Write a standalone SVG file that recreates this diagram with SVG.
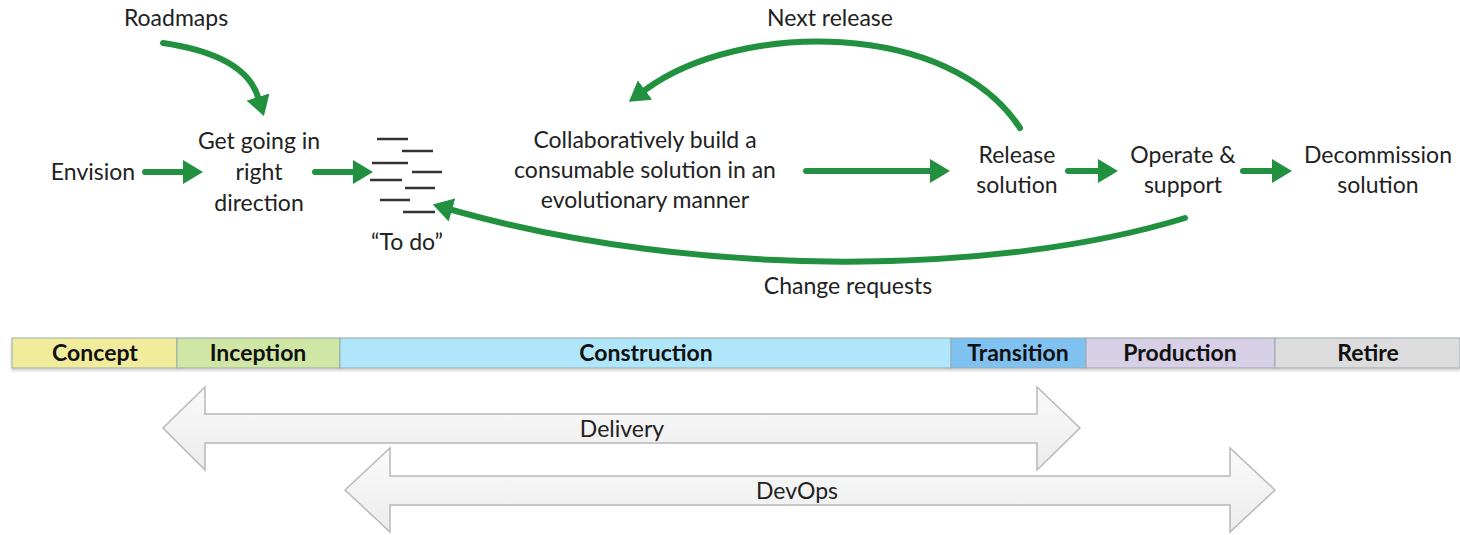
<svg xmlns="http://www.w3.org/2000/svg" width="1460" height="535" viewBox="0 0 1460 535">
<defs>
<marker id="ah" viewBox="0 0 20 24" refX="0" refY="12" markerWidth="20" markerHeight="24" markerUnits="userSpaceOnUse" orient="auto">
<path d="M0,0 L20,12 L0,24 Z" fill="#21913f"/>
</marker>
<linearGradient id="bg" x1="0" y1="0" x2="0" y2="1">
<stop offset="0" stop-color="#fafafa"/>
<stop offset="1" stop-color="#ececec"/>
</linearGradient>
<filter id="sh" x="-5%" y="-20%" width="110%" height="160%">
<feDropShadow dx="0" dy="2" stdDeviation="1.5" flood-color="#000" flood-opacity="0.2"/>
</filter>
</defs>
<style>
text{font-family:Lato,"Liberation Sans",sans-serif;font-size:23px;fill:#222;text-anchor:middle}
.ph{font-weight:bold;font-size:23px;fill:#111}
.g{fill:none;stroke:#21913f;stroke-width:6;stroke-linecap:round;marker-end:url(#ah)}
.td{stroke:#333;stroke-width:2.5}
.seg{stroke:#9aa;stroke-width:1}
.big{fill:url(#bg);stroke:#b8b8b8;stroke-width:1.5}
</style>
<rect width="1460" height="535" fill="#fff"/>

<g id="connectors">
<path class="g" d="M145,172 L183,172"/>
<path class="g" d="M315,172 L353,172"/>
<path class="g" d="M806,171 L930,171"/>
<path class="g" d="M1068,171 L1098,171"/>
<path class="g" d="M1243,171 L1272,171"/>
<path class="g" d="M163,43 Q245,55 258,97"/>
<path class="g" d="M1020,128 C950,20 740,20 645,90"/>
<path class="g" d="M1185,218 C1000,275 700,280 452,210"/>
</g>

<g id="roadmaps"><text x="176" y="26">Roadmaps</text></g>
<g id="envision"><text x="93" y="180">Envision</text></g>
<g id="get-going"><text x="259" y="149">Get going in</text><text x="259" y="180">right</text><text x="259" y="211">direction</text></g>
<g id="todo">
<line class="td" x1="377" y1="139" x2="408" y2="139"/>
<line class="td" x1="402" y1="151" x2="433" y2="151"/>
<line class="td" x1="372" y1="163" x2="408" y2="163"/>
<line class="td" x1="412" y1="172" x2="442" y2="172"/>
<line class="td" x1="370" y1="180" x2="402" y2="180"/>
<line class="td" x1="405" y1="188" x2="435" y2="188"/>
<line class="td" x1="380" y1="200" x2="410" y2="200"/>
<line class="td" x1="403" y1="212" x2="435" y2="212"/>
<text x="407" y="250">“To do”</text>
</g>
<g id="collaborate"><text x="645" y="148">Collaboratively build a</text><text x="645" y="178">consumable solution in an</text><text x="645" y="208">evolutionary manner</text></g>
<g id="release"><text x="1017" y="163">Release</text><text x="1017" y="193">solution</text></g>
<g id="operate"><text x="1183" y="163">Operate &amp;</text><text x="1183" y="193">support</text></g>
<g id="decommission"><text x="1378" y="163">Decommission</text><text x="1378" y="193">solution</text></g>
<g id="next-release"><text x="830" y="26">Next release</text></g>
<g id="change-requests"><text x="848" y="294">Change requests</text></g>

<g id="phases" filter="url(#sh)">
<rect class="seg" x="12" y="338" width="165" height="30" fill="#f1ec9c"/>
<rect class="seg" x="177" y="338" width="163" height="30" fill="#cfe6a4"/>
<rect class="seg" x="340" y="338" width="611" height="30" fill="#afe6f9"/>
<rect class="seg" x="951" y="338" width="135" height="30" fill="#7fc1f1"/>
<rect class="seg" x="1086" y="338" width="189" height="30" fill="#d6cfe5"/>
<rect class="seg" x="1275" y="338" width="185" height="30" fill="#dcdcdc"/>
</g>
<g id="phase-labels">
<text class="ph" x="95" y="361">Concept</text>
<text class="ph" x="258" y="361">Inception</text>
<text class="ph" x="646" y="361">Construction</text>
<text class="ph" x="1018" y="361">Transition</text>
<text class="ph" x="1180" y="361">Production</text>
<text class="ph" x="1368" y="361">Retire</text>
</g>

<g id="delivery">
<path class="big" d="M163,428 L205,387 L205,414 L1037,414 L1037,387 L1080,428 L1037,470 L1037,443 L205,443 L205,470 Z"/>
<text x="622" y="437">Delivery</text>
</g>
<g id="devops">
<path class="big" d="M345,490 L390,448 L390,476 L1230,476 L1230,448 L1275,490 L1230,532 L1230,505 L390,505 L390,532 Z"/>
<text x="797" y="499">DevOps</text>
</g>
</svg>
